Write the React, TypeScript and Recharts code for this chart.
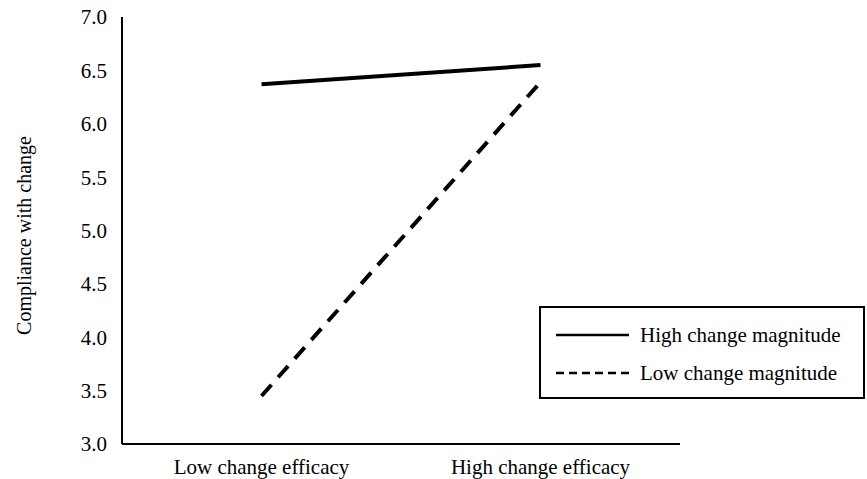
import { LineChart, Line, XAxis, YAxis, Legend } from 'recharts'

// categories on the x axis
const categories = ['Low change efficacy', 'High change efficacy']

// compliance scores
const highMagnitude = [6.37, 6.55]
const lowMagnitude = [3.45, 6.39]

const yTicks = [3.0, 3.5, 4.0, 4.5, 5.0, 5.5, 6.0, 6.5, 7.0]

const seriesNames = ['High change magnitude', 'Low change magnitude']

const FONT = '"Liberation Serif", "Times New Roman", serif'

const data = categories.map((name, i) => ({
  name,
  high: highMagnitude[i],
  low: lowMagnitude[i],
}))

// boxed legend like the original figure
function BoxLegend() {
  const rows = [
    { label: seriesNames[0], dash: undefined },
    { label: seriesNames[1], dash: '8 5' },
  ]
  return (
    <div
      style={{
        position: 'relative',
        width: 322,
        height: 89,
        border: '2px solid #000',
        background: '#fff',
        fontFamily: FONT,
        fontSize: 21,
        color: '#000',
        textAlign: 'left',
      }}
    >
      {rows.map((r, i) => (
        <div
          key={r.label}
          style={{
            position: 'absolute',
            left: 0,
            top: 15 + i * 38,
            height: 24,
            display: 'flex',
            alignItems: 'center',
            whiteSpace: 'nowrap',
          }}
        >
          <svg width={90} height={24} style={{ display: 'block' }}>
            <line
              x1={15}
              x2={88}
              y1={12}
              y2={12}
              stroke="#000"
              strokeWidth={2.5}
              strokeDasharray={r.dash}
            />
          </svg>
          <span style={{ marginLeft: 9, lineHeight: '24px' }}>{r.label}</span>
        </div>
      ))}
    </div>
  )
}

export default function App() {
  return (
    <div style={{ position: 'absolute', left: 0, top: 0, width: 867, height: 479, background: '#fff' }}>
      <LineChart
        width={867}
        height={479}
        data={data}
        margin={{ top: 17, right: 187, bottom: 0, left: 0 }}
      >
        <XAxis
          dataKey="name"
          scale="band"
          height={35}
          axisLine={{ stroke: '#000', strokeWidth: 2 }}
          tickLine={false}
          tickSize={0}
          tickMargin={15}
          tick={{ fill: '#000', fontSize: 21, fontFamily: 'Liberation Serif' }}
        />
        <YAxis
          width={122}
          domain={[3, 7]}
          ticks={yTicks}
          interval={0}
          tickFormatter={(v: number) => v.toFixed(1)}
          axisLine={{ stroke: '#000', strokeWidth: 2 }}
          tickLine={false}
          tickSize={0}
          tickMargin={15}
          tick={{ fill: '#000', fontSize: 21, fontFamily: 'Liberation Serif' }}
          label={(props: any) => {
            const vb = props.viewBox || { y: 17, height: 427 }
            const cy = vb.y + vb.height / 2 + 5
            return (
              <text
                x={24}
                y={cy}
                transform={`rotate(-90, 24, ${cy})`}
                textAnchor="middle"
                dominantBaseline="central"
                fontSize={20}
                fontFamily="Liberation Serif"
                fill="#000"
              >
                Compliance with change
              </text>
            )
          }}
        />
        <Legend
          layout="horizontal"
          verticalAlign="middle"
          align="center"
          content={() => <BoxLegend />}
          wrapperStyle={{ position: 'absolute', left: 539, top: 306, width: 326, height: 93 }}
        />
        <Line
          dataKey="high"
          name={seriesNames[0]}
          stroke="#000"
          strokeWidth={4}
          dot={false}
          activeDot={false}
          isAnimationActive={false}
        />
        <Line
          dataKey="low"
          name={seriesNames[1]}
          stroke="#000"
          strokeWidth={4}
          strokeDasharray="15 10"
          dot={false}
          activeDot={false}
          isAnimationActive={false}
        />
      </LineChart>
    </div>
  )
}
